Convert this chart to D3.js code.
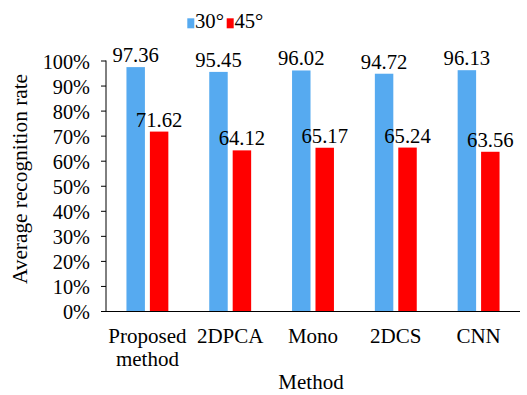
<!DOCTYPE html>
<html><head><meta charset="utf-8">
<script src="https://cdn.jsdelivr.net/npm/d3@7"></script>
<style>body{margin:0;background:#fff;} svg{display:block;} text{font-family:"Liberation Serif","Times New Roman",serif;fill:#000;}</style>
</head><body>
<svg id="c" width="527" height="395"></svg>
<script>
const categories = [["Proposed","method"],["2DPCA"],["Mono"],["2DCS"],["CNN"]];
const seriesNames = ["30°","45°"];
const values30 = [97.36, 95.45, 96.02, 94.72, 96.13];
const values45 = [71.62, 64.12, 65.17, 65.24, 63.56];
const yTicks = [0,10,20,30,40,50,60,70,80,90,100];
const colors = ["#56AAF0","#FF0000"];

(function(){
const svg = d3.select("#c");
const pL = 106, pR = 520, pT = 60.5, pB = 311;
const keys = categories.map((c,i)=>i);
const x = d3.scaleBand().domain(keys).range([pL,pR]).padding(0);
const y = d3.scaleLinear().domain([0,100]).range([pB,pT]);
const bw = x.bandwidth();
const barW = bw*0.223, gap = bw*0.06;

// y axis
const ya = svg.append("g").attr("transform",`translate(${pL},0)`)
  .call(d3.axisLeft(y).tickValues(yTicks).tickSize(5).tickPadding(11).tickFormat(d=>d+"%"));
ya.attr("font-family",null);
ya.select(".domain").attr("stroke","#000").attr("d",`M0,${pT}V${pB}`);
ya.selectAll(".tick line").attr("stroke","#000");
ya.selectAll(".tick text").attr("font-size",20.3).attr("dy","0.38em");

// x axis line
svg.append("line").attr("x1",pL).attr("x2",pR).attr("y1",pB+0.5).attr("y2",pB+0.5).attr("stroke","#000").attr("stroke-width",1.2);

const series = [values30, values45];
series.forEach((vals,s)=>{
  const off = s===0 ? -gap/2-barW : gap/2;
  const g = svg.append("g");
  g.selectAll("rect").data(vals).join("rect")
    .attr("x",(d,i)=>x(i)+bw/2+off)
    .attr("y",d=>y(d))
    .attr("width",barW)
    .attr("height",d=>pB-y(d))
    .attr("fill",colors[s]);
  g.selectAll("text").data(vals).join("text")
    .attr("x",(d,i)=>x(i)+bw/2+off+barW/2)
    .attr("y",d=>y(d)-5)
    .attr("text-anchor","middle")
    .attr("font-size",20.7)
    .text(d=>d.toFixed(2));
});

// x labels
categories.forEach((lines,i)=>{
  lines.forEach((t,j)=>{
    svg.append("text").attr("x",x(i)+bw/2).attr("y",342.7+j*23)
      .attr("text-anchor","middle").attr("font-size",21).text(t);
  });
});

// axis titles
svg.append("text").attr("x",(pL+pR)/2 - 2).attr("y",389).attr("text-anchor","middle").attr("font-size",21).text("Method");
svg.append("text").attr("transform","translate(26.5,179) rotate(-90)").attr("text-anchor","middle").attr("font-size",21.3).text("Average recognition rate");

// legend
const leg = svg.append("g");
const legX = [187.3, 226.7];
seriesNames.forEach((n,i)=>{
  leg.append("rect").attr("x",legX[i]).attr("y",18.3).attr("width",7).attr("height",10).attr("fill",colors[i]);
  leg.append("text").attr("x",legX[i]+7.7).attr("y",28.3).attr("font-size",20.7).text(n);
});
})();
</script>
</body></html>
